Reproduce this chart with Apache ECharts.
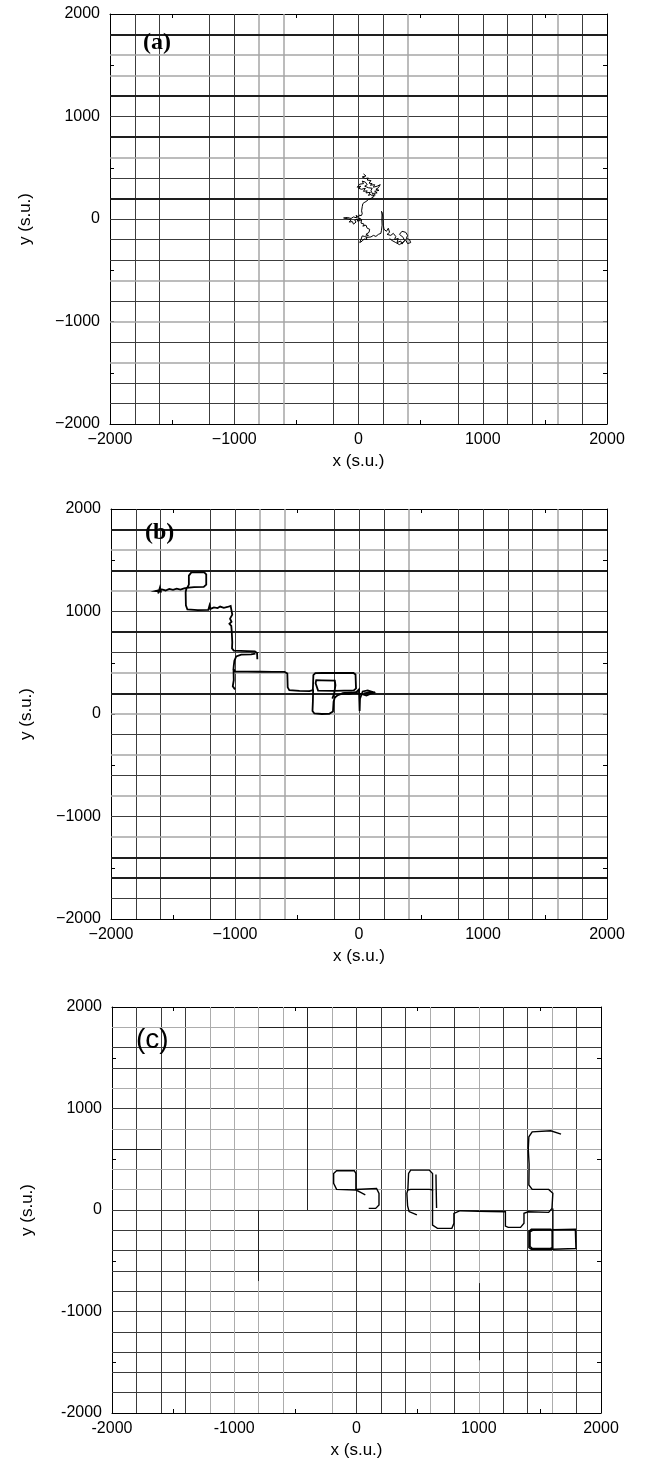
<!DOCTYPE html>
<html>
<head>
<meta charset="utf-8">
<title>Trajectories</title>
<script src="https://cdn.jsdelivr.net/npm/echarts/dist/echarts.min.js"></script>
<style>
  html, body { margin: 0; padding: 0; background: #fff; }
  #chart { width: 647px; height: 1465px; }
</style>
</head>
<body>
<div id="chart"></div>
<script>
// axis range and tick step (s.u.)
const axisMin = -2000
const axisMax = 2000
const tickStep = 1000
const panelLabels = ['(a)', '(b)', '(c)']

// streets, panel (a)
const aVDark = [-1800, -1600, -1200, -1000, -200, 0, 200, 800, 1000, 1200, 1400, 1800]
const aVGray = [-800, -600, 400, 1600]
const aHThick = [1800, 1200, 800, 200]
const aHDark = [1000, 400, 0, -200, -400, -800, -1200, -1600, -1800]
const aHGray = [1600, 1400, 600, -600, -1000, -1400]

// streets, panel (b)
const bVDark = [-1800, -1600, -1200, -1000, -200, 0, 200, 800, 1000, 1200, 1400, 1800]
const bVGray = [-800, -600, 400, 1600]
const bHThick = [1800, 1400, 800, 200, -1400, -1600]
const bHDark = [1000, 600, -200, -600, -1000, -1800]
const bHGray = [1600, 1200, 400, 0, -400, -800, -1200]

// streets, panel (c)
const cVDark = [-1800, -1600, -1400, 0, 200, 400, 800, 1200, 1400, 1800]
const cVGray = [-1200, -1000, -800, -600, -200, 600, 1000, 1600]
const cHDark = [1600, 1400, 1000, 0, -200, -400, -600, -800, -1000, -1200, -1400, -1600, -1800]
const cHGray = [1800, 1200, 800, 600, 400, 200]
const cStreetBits = [
  [[-400, 2000], [-400, 0]],
  [[-800, 0], [-800, -700]],
  [[1000, -720], [1000, -1480]],
  [[-800, 1800], [2000, 1800]],
  [[-2000, 600], [-1600, 600]]
]

// trajectory, panel (a)
const trackA = [
  [40, 440], [60, 420], [30, 410], [55, 395], [80, 400], [70, 380], [100, 375], [85, 350], [110, 345],
  [95, 330], [130, 335], [120, 310], [150, 320], [175, 335], [160, 305], [140, 290], [165, 280],
  [130, 270], [150, 255], [120, 250], [135, 235], [110, 225], [100, 240], [80, 230], [95, 260],
  [60, 255], [70, 275], [40, 270], [55, 300], [25, 290], [0, 300], [20, 320], [-10, 310], [10, 340],
  [40, 345], [30, 370], [55, 360], [70, 335], [50, 320], [80, 305], [110, 300], [100, 275], [125, 220],
  [105, 205], [80, 190], [60, 170], [45, 160], [35, 150], [30, 120], [25, 80], [30, 50], [20, 30],
  [10, 40], [0, 20], [-20, 35], [-10, 10], [-40, 20], [-60, 5], [-90, 15], [-120, 10], [-80, 0],
  [-60, -10], [-75, -30], [-50, -25], [-40, -50], [-20, -30], [-30, -10], [0, 0], [-10, -20],
  [15, -15], [5, 10], [25, -5], [20, -40], [45, -50], [35, -70], [60, -60], [70, -90], [90, -100],
  [85, -130], [60, -150], [80, -160], [50, -170], [30, -165], [20, -200], [10, -230], [30, -215],
  [45, -195], [70, -200], [60, -180], [100, -175], [120, -160], [140, -170], [160, -150], [180, -140],
  [185, -110], [190, -60], [188, 0], [190, 60], [185, 75], [195, 30], [200, -60], [205, -100],
  [225, -120], [240, -90], [250, -130], [230, -150], [260, -160], [280, -140], [300, -170],
  [290, -200], [320, -190], [310, -230], [340, -215], [350, -245], [370, -210], [360, -180],
  [330, -150], [350, -120], [380, -130], [395, -160], [385, -190], [410, -200], [420, -230],
  [395, -240], [380, -205], [360, -225], [330, -250], [300, -230], [270, -210], [250, -190]
]

// trajectory pieces, panel (b)
const trackB = [
  [[-1620, 1175], [-1605, 1235], [-1598, 1195], [-1640, 1200], [-1590, 1215], [-1560, 1205],
   [-1530, 1220], [-1500, 1212], [-1470, 1222], [-1440, 1214], [-1410, 1226], [-1385, 1232],
   [-1372, 1262], [-1372, 1350], [-1352, 1382], [-1250, 1384], [-1232, 1362], [-1232, 1262],
   [-1252, 1240], [-1330, 1238], [-1390, 1230], [-1398, 1190], [-1396, 1060], [-1384, 1020],
   [-1300, 1014], [-1215, 1016], [-1205, 1060], [-1198, 1025], [-1170, 1040], [-1140, 1034],
   [-1120, 1048], [-1090, 1036], [-1060, 1044], [-1035, 1055], [-1030, 1020], [-1022, 970],
   [-1040, 930], [-1028, 900], [-1045, 880], [-1030, 860], [-1026, 800], [-1022, 700],
   [-1024, 640], [-1010, 618], [-900, 614], [-840, 612], [-822, 595], [-820, 535]],
  [[-835, 590], [-870, 582], [-950, 580], [-990, 562], [-1005, 520], [-1010, 470], [-1012, 440],
   [-1000, 413], [-900, 414], [-800, 412], [-700, 411], [-600, 410], [-578, 395], [-575, 260],
   [-562, 232], [-480, 226], [-400, 224], [-372, 232]],
  [[-1012, 440], [-1010, 330], [-1018, 270], [-1000, 240]],
  [[-372, 232], [-368, 380], [-352, 398], [-300, 402], [-200, 400], [-45, 400], [-28, 385],
   [-24, 250], [-42, 230], [-200, 226], [-330, 228], [-350, 300], [-345, 330], [-300, 328],
   [-195, 325], [-190, 280], [-200, 200], [-215, 150]],
  [[-370, 240], [-372, 120], [-375, 30], [-360, 5], [-300, 0], [-240, 2], [-210, 25], [-205, 120],
   [-195, 160], [-170, 185], [-120, 205], [-60, 210], [-20, 205], [20, 195], [60, 180], [100, 200],
   [130, 210]],
  [[-140, 200], [-80, 195], [-20, 215], [0, 240], [3, 120], [5, 30], [8, 150], [30, 220], [70, 230],
   [110, 215], [40, 200]]
]

// trajectory pieces, panel (c)
const trackC = [
  [[72, 150], [30, 175], [-5, 197], [-163, 203], [-187, 262], [-187, 360], [-163, 387], [-18, 387],
   [-5, 360], [-5, 203], [164, 212], [184, 164], [184, 49], [157, 16], [100, 16]],
  [[494, -49], [430, -15], [418, 40], [412, 164], [420, 197], [426, 360], [443, 393], [595, 393],
   [622, 360], [622, 197], [595, 203], [443, 203], [420, 197]],
  [[622, 197], [622, 16], [622, -148], [662, -181], [780, -181], [797, -131], [797, -33], [848, -7],
   [1000, -12], [1100, -15], [1218, -17], [1218, -158], [1241, -171], [1342, -171], [1370, -131],
   [1370, -33], [1404, -17], [1572, -23], [1599, 16], [1606, 164], [1572, 203], [1437, 203],
   [1410, 246], [1412, 450], [1405, 600], [1410, 721], [1437, 770], [1589, 780], [1673, 747]],
  [[650, 350], [652, 197], [655, 20]],
  [[1606, 16], [1606, -190], [1606, -387], [1430, -387], [1410, -370], [1410, -210], [1430, -190],
   [1590, -190], [1600, -210], [1600, -370], [1580, -380], [1440, -380], [1420, -360], [1420, -215],
   [1440, -200], [1606, -195], [1790, -190], [1795, -380], [1606, -387]]
]

const grids = [
  { left: 110, top: 14, width: 497, height: 410 },
  { left: 111, top: 509, width: 496, height: 410 },
  { left: 112, top: 1007, width: 489, height: 406 }
]

const font = 'Liberation Sans, Arial, sans-serif'

function minusLabel(v) {
  return v < 0 ? '\u2212' + Math.abs(v) : String(v)
}

function streetLines(gi, vs, hs, color, width) {
  const data = vs.map(v => ({ coords: [[v, axisMin], [v, axisMax]] }))
    .concat(hs.map(h => ({ coords: [[axisMin, h], [axisMax, h]] })))
  return {
    type: 'lines',
    coordinateSystem: 'cartesian2d',
    xAxisIndex: gi * 2,
    yAxisIndex: gi * 2,
    silent: true,
    z: 1,
    lineStyle: { color: color, width: width, opacity: 1, curveness: 0 },
    data: data
  }
}

function track(gi, pieces, width) {
  return {
    type: 'lines',
    coordinateSystem: 'cartesian2d',
    polyline: true,
    xAxisIndex: gi * 2,
    yAxisIndex: gi * 2,
    silent: true,
    z: 5,
    lineStyle: { color: '#000', width: width, opacity: 1 },
    data: pieces.map(p => ({ coords: p }))
  }
}

const xAxes = []
const yAxes = []
grids.forEach((g, i) => {
  const fmt = i < 2 ? minusLabel : v => String(v)
  const common = {
    type: 'value',
    gridIndex: i,
    min: axisMin,
    max: axisMax,
    interval: tickStep,
    axisLine: { show: true, onZero: false, lineStyle: { color: '#000', width: 1 } },
    axisTick: { show: true, inside: true, length: 4, lineStyle: { color: '#000' } },
    minorTick: { show: true, splitNumber: 2, length: 4, lineStyle: { color: '#000' } },
    splitLine: { show: false }
  }
  xAxes.push(Object.assign({}, common, {
    position: 'bottom',
    name: 'x (s.u.)',
    nameLocation: 'middle',
    nameGap: 29,
    nameTextStyle: { color: '#000', fontSize: 17, fontFamily: font },
    axisLabel: { color: '#000', fontSize: 16, fontFamily: font, margin: 8, formatter: fmt }
  }))
  xAxes.push(Object.assign({}, common, {
    position: 'top',
    axisLabel: { show: false }
  }))
  yAxes.push(Object.assign({}, common, {
    position: 'left',
    name: 'y (s.u.)',
    nameLocation: 'middle',
    nameGap: 76,
    nameTextStyle: { color: '#000', fontSize: 17, fontFamily: font },
    axisLabel: { color: '#000', fontSize: 16, fontFamily: font, margin: 10, formatter: fmt }
  }))
  yAxes.push(Object.assign({}, common, {
    position: 'right',
    axisLabel: { show: false }
  }))
})

const series = [
  streetLines(0, aVDark, aHDark, '#3c3c3c', 1),
  streetLines(0, aVGray, aHGray, '#a6a6a6', 1.5),
  streetLines(0, [], aHThick, '#1e1e1e', 2),
  track(0, [trackA], 1),

  streetLines(1, bVDark, bHDark, '#3c3c3c', 1),
  streetLines(1, bVGray, bHGray, '#a6a6a6', 1.5),
  streetLines(1, [], bHThick, '#1e1e1e', 2),
  track(1, trackB, 1.8),

  streetLines(2, cVDark, cHDark, '#3a3a3a', 1),
  streetLines(2, cVGray, cHGray, '#acacac', 1),
  {
    type: 'lines',
    coordinateSystem: 'cartesian2d',
    xAxisIndex: 4,
    yAxisIndex: 4,
    silent: true,
    z: 2,
    lineStyle: { color: '#222', width: 1, opacity: 1 },
    data: cStreetBits.map(s => ({ coords: s }))
  },
  track(2, trackC, 1.4)
]

const serif = '"Liberation Serif", "Times New Roman", serif'
const chart = echarts.init(document.getElementById('chart'), null, { renderer: 'canvas' })
chart.setOption({
  animation: false,
  backgroundColor: '#fff',
  grid: grids.map(g => Object.assign({ show: false, containLabel: false }, g)),
  xAxis: xAxes,
  yAxis: yAxes,
  series: series,
  graphic: [
    { type: 'text', left: 143, top: 31, z: 10, style: { text: panelLabels[0], fill: '#000', fontSize: 24, fontWeight: 'bold', fontFamily: serif } },
    { type: 'text', left: 145, top: 521, z: 10, style: { text: panelLabels[1], fill: '#000', fontSize: 24, fontWeight: 'bold', fontFamily: serif } },
    { type: 'text', left: 136, top: 1026, z: 10, style: { text: panelLabels[2], fill: '#000', fontSize: 28, fontWeight: 'normal', fontFamily: font } }
  ]
})
</script>
</body>
</html>
